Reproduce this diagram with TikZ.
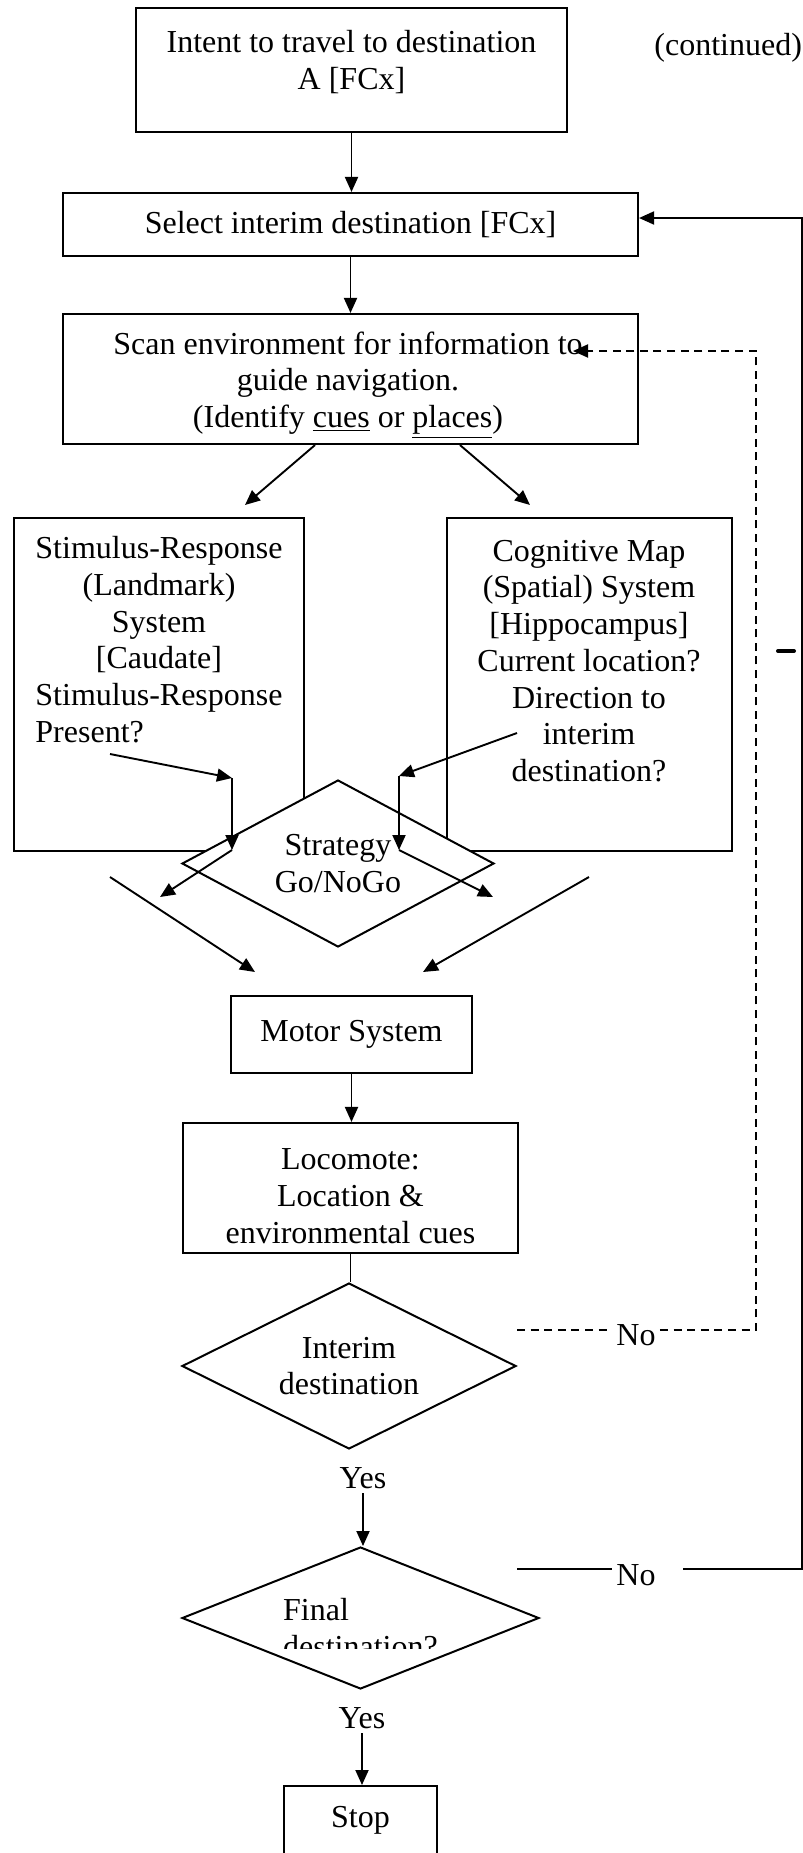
\documentclass[tikz,border=0pt]{standalone}
\usepackage{fontspec}
\setmainfont{Liberation Serif}
\usetikzlibrary{arrows.meta,shapes.geometric,calc}
\begin{document}
\begin{tikzpicture}[x=0.5pt,y=-0.5pt,
  every node/.style={font=\fontsize{16pt}{18.35pt}\selectfont},
  box/.style={draw, line width=1.05pt, rectangle, inner sep=0pt, fill=white},
  dia/.style={draw, line width=1pt, diamond, inner sep=0pt, fill=white, align=center},
  txt/.style={inner sep=0pt, align=center},
  lbl/.style={inner sep=2pt},
  ln/.style={line width=0.95pt},
  arr/.style={line width=0.95pt, -{Triangle[length=7.5pt,width=6.5pt]}},
  dline/.style={line width=0.95pt, dash pattern=on 4pt off 2.8pt}
]
\useasboundingbox (0,0) rectangle (803,1853);
\clip (0,0) rectangle (803,1853);

% top boxes
\node[box, minimum width=215.5pt, minimum height=62pt] (b1) at (351.5,70) {};
\node[txt] (b1t) at (351.5,62) {Intent to travel to destination\\A [FCx]};
\node[box, minimum width=287.5pt, minimum height=31.5pt] (b2) at (350.5,224.5) {Select interim destination [FCx]};
\node[box, minimum width=287.5pt, minimum height=65pt] (b3) at (350.5,379) {};
\node[txt] (b3t) at (348,385) {Scan environment for information to\\guide navigation.\\(Identify \underline{cues} or \underline{places})};
\node[inner sep=0pt, anchor=west] (cont) at (654,48) {(continued)};

% system boxes
\node[box, minimum width=145pt, minimum height=166.5pt] (bl) at (159,684.5) {};
\node[inner sep=0pt] (blt) at (159,643) {\begin{tabular}{@{}c@{}}Stimulus-Response\\(Landmark)\\System\\{[Caudate]}\\Stimulus-Response\\\multicolumn{1}{@{}l@{}}{Present?}\end{tabular}};
\node[box, minimum width=142.5pt, minimum height=166.5pt] (br) at (589.5,684.5) {};
\node[txt] (brt) at (589,661) {Cognitive Map\\(Spatial) System\\{[Hippocampus]}\\Current location?\\Direction to\\interim\\destination?};

% strategy diamond
\node[dia, aspect=1.87, minimum width=156pt, minimum height=83.5pt] (st) at (338,863.5) {Strategy\\Go/NoGo};

% arrows from scan box
\coordinate (la) at (245,505);
\coordinate (ra) at (530,505);
\draw[arr] (b1.south) -- (b1.south |- b2.north);
\draw[arr] (b2.south) -- (b3.north);
\draw[arr] ($(b3.south)+(-35.5,0)$) -- (la);
\draw[arr] ($(b3.south)+(109.5,0)$) -- (ra);

% arrows around strategy
\coordinate (p1) at (110,754);
\coordinate (p2) at (232,778);
\coordinate (p3) at (232,850);
\coordinate (p5) at (160,897);
\coordinate (q1) at (517,733);
\coordinate (q2) at (399,776);
\coordinate (q3) at (399,850);
\coordinate (q5) at (493,897);
\draw[arr] (p1) -- (p2);
\draw[arr] (p2) -- (p3);
\draw[arr] (p3) -- (p5);
\draw[arr] (q1) -- (q2);
\draw[arr] (q2) -- (q3);
\draw[arr] (q3) -- (q5);
\coordinate (o1) at (110,877);
\coordinate (o2) at (255,972);
\coordinate (o3) at (589,877);
\coordinate (o4) at (423,972);
\draw[arr] (o1) -- (o2);
\draw[arr] (o3) -- (o4);

% motor and locomote
\node[box, minimum width=120.5pt, minimum height=38.5pt] (mo) at (351.5,1034.5) {Motor System};
\node[box, minimum width=167.5pt, minimum height=65pt] (lo) at (350.5,1188) {};
\node[txt] (lot) at (350.5,1196) {Locomote:\\ Location \&\\environmental cues};
\draw[arr] (mo.south) -- (mo.south |- lo.north);

% interim decision
\node[dia, aspect=2, minimum width=167pt, minimum height=83pt] (in) at (349,1366) {Interim\\destination};
\draw[ln] (lo.south) -- (lo.south |- in.north);
\node[lbl] (y1) at (363,1478) {Yes};

% final decision
\node[dia, aspect=2.5, minimum width=178.5pt, minimum height=71pt] (fi) at (360.5,1618) {};
\begin{scope}
\clip (0,0) rectangle (803,1648);
\node[inner sep=0pt, align=left] (fit) at (360.5,1628) {Final\\destination?};
\end{scope}
\draw[arr] (y1.south) -- (y1.south |- fi.north);
\node[lbl] (y2) at (362,1718) {Yes};

% stop
\node[box, minimum width=76.5pt, minimum height=60pt, anchor=north] (sp) at (360.5,1785) {};
\node[txt] (spt) at (360.5,1820) {Stop};
\draw[arr] (y2.south) -- (y2.south |- sp.north);

% No loops
\node[lbl] (n1) at (636,1335) {No};
\node[lbl] (n2) at (636,1575) {No};
\coordinate (d1) at (517,1330);
\coordinate (d2) at (756,1330);
\coordinate (d3) at (756,351);
\coordinate (dt) at (573,351);
\draw[dline] (d1) -- (n1.west |- d1);
\draw[dline, -{Triangle[length=7.5pt,width=6.5pt]}] (n1.east |- d1) -- (d2) -- (d3) -- (dt);
\coordinate (s1) at (517,1569);
\coordinate (s2) at (683,1569);
\coordinate (r1) at (802,1569);
\coordinate (r2) at (802,218);
\draw[ln] (s1) -- (n2.west |- s1);
\draw[arr] (s2) -- (r1) -- (r2) -- (r2 -| b2.east);

% stray mark
\draw[line width=2pt, line cap=round] (778,651) -- (794,651);
\end{tikzpicture}
\end{document}
